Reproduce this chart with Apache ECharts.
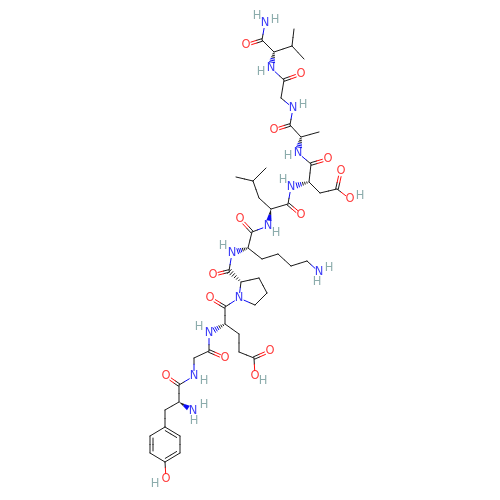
<!DOCTYPE html>
<html><head><meta charset="utf-8">
<style>html,body{margin:0;padding:0;background:#fff}#c{width:500px;height:500px}</style>
<script src="https://cdn.jsdelivr.net/npm/echarts@6/dist/echarts.min.js"></script>
</head><body><div id="c"></div>
<script>
const carbonAtoms=[[262,40],[274,52],[292,46],[294,29],[304,59],[284,80],[281,98],[290,125],[301,137],[319,132],
[311,164],[309,182],[320,193],[337,189],[288,204],[271,209],[259,198],[253,181],[236,177],[266,168],
[252,232],[248,248],[262,259],[278,254],[291,266],[307,261],[229,271],[241,282],[259,278],[267,293],
[255,305],[225,307],[225,324],[239,334],[239,352],[254,358],[209,351],[194,358],[179,385],[179,402],
[165,410],[165,427],[180,436],[180,453],[165,462],[150,453],[150,436]];
const nitrogenAtoms=[[265,23],[271,68],[293,108],[298,153],[291,187],[268,226],[232,253],[319,272],[239,298],[209,333],[194,376],[193,411]];
const oxygenAtoms=[[246,45],[301,74],[274,130],[328,159],[341,171],[350,199],[301,215],[240,219],[213,275],[210,298],[270,351],[255,376],[225,358],[166,376],[166,479]];
const hydrogenLabels=[[257,16],[275,20],[261,72],[303,105],[288,156],[360,196],[283,180],[276,233],[223,246],[329,268],[317,282],[263,381],[199,327],[204,381],[204,405],[194,421],[155,484]];
const singleBonds=["C0-N0","C0-C1","C1-C2","C2-C3","C2-C4","N1-C5","C5-C6","C6-N2","N2-C7","C7-C8","C8-C9","N3-C10","C10-C11","C11-C12","C12-C13","C13-O5","N4-C14","C14-C15","C15-C16","C16-C17","C17-C18","C17-C19","N5-C20","C20-C21","C21-C22","C22-C23","C23-C24","C24-C25","C25-N7","N6-C26","C27-C28","C28-C29","C29-C30","C30-N8","N8-C27","N8-C31","C31-C32","C32-C33","C33-C34","C34-C35","C35-O11","N9-C36","C36-C37","C37-N10","N10-C38","C38-C39","C39-C40","C40-C41","C42-C43","C44-C45","C46-C41","C44-O14"];
const doubleBonds=["C0-O0","C5-O1","C7-O2","C10-O3","C13-O4","C14-O6","C20-O7","C26-O8","C31-O9","C35-O10","C36-O12","C38-O13"];
const aromaticBonds=["C41-C42","C43-C44","C45-C46"];
const hashedBonds=["C1-N1","C8-N3","C11-N4","C21-N6","C27-C26","C32-N9"];
const wedgeBonds=["C15-N5","C39-N11"];
const ringAtoms=["C41","C42","C43","C44","C45","C46"];

const INK='#1c1c1c',BLUE='#0c0cf5',RED='#ff0d0d',HCOL='#6f9797';
function pos(id){const a={C:carbonAtoms,N:nitrogenAtoms,O:oxygenAtoms}[id[0]];return a[+id.slice(1)];}
const rc=ringAtoms.map(pos).reduce((s,p)=>[s[0]+p[0]/6,s[1]+p[1]/6],[0,0]);
const bondRows=[];
[['s',singleBonds],['d',doubleBonds],['a',aromaticBonds],['h',hashedBonds],['w',wedgeBonds]].forEach(([k,list])=>{
  list.forEach(b=>{const [p,q]=b.split('-');const P=pos(p),Q=pos(q);
    bondRows.push({value:[P[0],P[1],Q[0],Q[1]],kind:k,pEl:p[0],qEl:q[0]});});
});
function seg(x1,y1,x2,y2,color,w){return {type:'line',shape:{x1,y1,x2,y2},style:{stroke:color||INK,lineWidth:w||1,lineCap:'round'}};}
function endCol(el){return el==='N'?BLUE:el==='O'?RED:INK;}
function renderBond(params,api){
  const r=bondRows[params.dataIndex];
  let a=api.coord([api.value(0),api.value(1)]),b=api.coord([api.value(2),api.value(3)]);
  const dx=b[0]-a[0],dy=b[1]-a[1],L=Math.hypot(dx,dy),ux=dx/L,uy=dy/L,nx=-uy,ny=ux;
  const ta=r.pEl==='C'?0:5.5,tb=r.qEl==='C'?0:5.5;
  const A=[a[0]+ux*ta,a[1]+uy*ta],B=[b[0]-ux*tb,b[1]-uy*tb];
  const len=L-ta-tb;
  const M=[(A[0]+B[0])/2,(A[1]+B[1])/2];
  const kids=[];
  const half=(P,Q,off)=>{
    const p=[P[0]+nx*off,P[1]+ny*off],q=[Q[0]+nx*off,Q[1]+ny*off],m=[(p[0]+q[0])/2,(p[1]+q[1])/2];
    kids.push(seg(p[0],p[1],m[0],m[1],endCol(r.pEl)));
    kids.push(seg(m[0],m[1],q[0],q[1],endCol(r.qEl)));
  };
  if(r.kind==='s'){ half(A,B,0); }
  else if(r.kind==='d'){ half(A,B,-1.3); half(A,B,1.3); }
  else if(r.kind==='a'){
    half(A,B,0);
    const cc=api.coord(rc);
    const s=((cc[0]-a[0])*nx+(cc[1]-a[1])*ny)>0?1:-1;
    const P2=[A[0]+ux*len*.12,A[1]+uy*len*.12],Q2=[B[0]-ux*len*.12,B[1]-uy*len*.12];
    half(P2,Q2,s*3);
  }
  else if(r.kind==='h'){
    const n=6;
    for(let i=1;i<=n;i++){const t=i/n*0.96,w=0.3+2.4*t,c=[A[0]+dx*(len/L)*t,A[1]+dy*(len/L)*t];
      kids.push(seg(c[0]-nx*w,c[1]-ny*w,c[0]+nx*w,c[1]+ny*w,t>0.5?endCol(r.qEl):INK));}
  }
  else if(r.kind==='w'){
    kids.push({type:'polygon',shape:{points:[A,[M[0]+nx*1.3,M[1]+ny*1.3],[M[0]-nx*1.3,M[1]-ny*1.3]]},style:{fill:INK}});
    kids.push({type:'polygon',shape:{points:[[M[0]+nx*1.3,M[1]+ny*1.3],[B[0]+nx*2.6,B[1]+ny*2.6],[B[0]-nx*2.6,B[1]-ny*2.6],[M[0]-nx*1.3,M[1]-ny*1.3]]},style:{fill:endCol(r.qEl)}});
  }
  return {type:'group',children:kids};
}
function labelSeries(data,text,color){
  return {type:'scatter',data:data.map((p,i)=>{
      let t=text; if(color===RED) t='O';
      return {value:p,name:t};
    }),symbolSize:0,silent:true,z:5,
    label:{show:true,position:'inside',formatter:text,color,fontFamily:'DejaVu Sans',fontSize:11.5,fontWeight:'normal'}};
}
const chart=echarts.init(document.getElementById('c'),null,{renderer:'canvas'});
chart.setOption({animation:false,backgroundColor:'#fff',
  grid:{left:0,right:0,top:0,bottom:0},
  xAxis:{type:'value',min:0,max:500,show:false},
  yAxis:{type:'value',min:0,max:500,inverse:true,show:false},
  series:[
    {type:'custom',coordinateSystem:'cartesian2d',silent:true,data:bondRows.map(r=>r.value),renderItem:renderBond,encode:{x:[0,2],y:[1,3]},clip:false},
    labelSeries(nitrogenAtoms,'N',BLUE),
    labelSeries(oxygenAtoms,'O',RED),
    labelSeries(hydrogenLabels,'H',HCOL)
  ]});
</script></body></html>
